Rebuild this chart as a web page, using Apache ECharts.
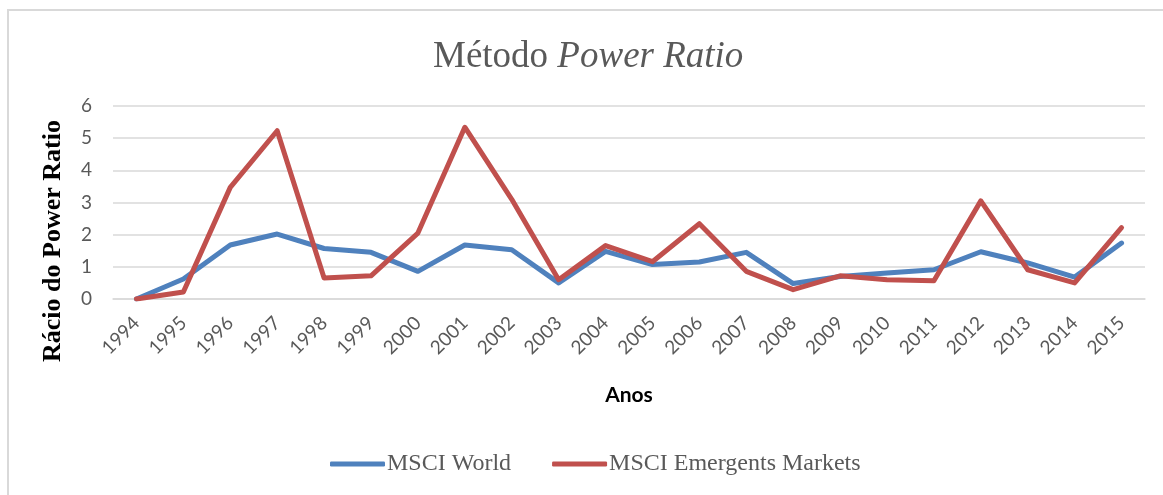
<!DOCTYPE html>
<html>
<head>
<meta charset="utf-8">
<script src="https://cdn.jsdelivr.net/npm/echarts@6/dist/echarts.min.js"></script>
<style>
  html, body { margin: 0; padding: 0; background: #fff; }
  #chart { width: 1163px; height: 495px; }
</style>
</head>
<body>
<div id="chart"></div>
<script>
// Years on the category axis
var years = ['1994', '1995', '1996', '1997', '1998', '1999', '2000', '2001', '2002', '2003', '2004',
             '2005', '2006', '2007', '2008', '2009', '2010', '2011', '2012', '2013', '2014', '2015'];

// Power ratio values
var msciWorld = [0, 0.62, 1.68, 2.02, 1.57, 1.45, 0.86, 1.68, 1.53, 0.50, 1.48,
                 1.07, 1.15, 1.45, 0.48, 0.70, 0.81, 0.91, 1.47, 1.12, 0.68, 1.74];
var msciEmerging = [0, 0.22, 3.47, 5.23, 0.65, 0.72, 2.05, 5.34, 3.10, 0.60, 1.66,
                    1.16, 2.34, 0.86, 0.29, 0.72, 0.60, 0.57, 3.05, 0.91, 0.50, 2.22];

var yTicks = [0, 1, 2, 3, 4, 5, 6];

var gray = '#595959';
var serif = '"Liberation Serif", "Times New Roman", serif';
var sans = 'Lato, "Open Sans", sans-serif';

var chart = echarts.init(document.getElementById('chart'), null, { renderer: 'canvas' });

chart.setOption({
    animation: false,
    backgroundColor: '#fff',
    color: ['#4F81BD', '#C0504D'],
    title: {
        text: '{a|Método }{b|Power Ratio}',
        left: 433,
        top: 39,
        padding: 0,
        textStyle: {
            fontWeight: 'normal',
            rich: {
                a: { fontFamily: serif, fontSize: 37, color: gray, fontWeight: 'normal' },
                b: { fontFamily: serif, fontSize: 37, color: gray, fontWeight: 'normal', fontStyle: 'italic' }
            }
        }
    },
    grid: { left: 113, right: 18, top: 106, bottom: 196, containLabel: false },
    xAxis: {
        type: 'category',
        data: years,
        boundaryGap: true,
        name: 'Anos',
        nameLocation: 'middle',
        nameGap: 86,
        nameTextStyle: { fontFamily: sans, fontSize: 21, fontWeight: 'bold', color: '#000' },
        axisLine: { lineStyle: { color: '#D9D9D9', width: 1.5 } },
        axisTick: { show: false },
        axisLabel: { rotate: 45, margin: 21, fontFamily: sans, fontSize: 19, color: gray, interval: 0 }
    },
    yAxis: {
        type: 'value',
        min: yTicks[0],
        max: yTicks[yTicks.length - 1],
        interval: 1,
        axisLine: { show: false },
        axisTick: { show: false },
        axisLabel: { margin: 21, fontFamily: sans, fontSize: 19, color: gray },
        splitLine: { lineStyle: { color: '#D9D9D9', width: 1.5 } }
    },
    legend: {
        left: 330,
        top: 452,
        padding: 0,
        itemGap: 41,
        itemWidth: 55,
        itemHeight: 5,
        icon: 'roundRect',
        textStyle: { fontFamily: serif, fontSize: 24, color: gray, padding: [0, 0, 0, -3] },
        data: ['MSCI World', 'MSCI Emergents Markets']
    },
    graphic: [
        {
            type: 'rect',
            shape: { x: 8, y: 10, width: 1200, height: 600 },
            style: { fill: 'none', stroke: '#D9D9D9', lineWidth: 2 },
            silent: true
        },
        {
            type: 'text',
            x: 53,
            y: 241,
            rotation: Math.PI / 2,
            style: {
                text: 'Rácio do Power Ratio',
                fontFamily: serif,
                fontSize: 26,
                fontWeight: 'bold',
                fill: '#000',
                align: 'center',
                verticalAlign: 'middle'
            }
        }
    ],
    series: [
        {
            name: 'MSCI World',
            type: 'line',
            data: msciWorld,
            showSymbol: false,
            lineStyle: { width: 5, cap: 'round', join: 'round' }
        },
        {
            name: 'MSCI Emergents Markets',
            type: 'line',
            data: msciEmerging,
            showSymbol: false,
            lineStyle: { width: 5, cap: 'round', join: 'round' }
        }
    ]
});
</script>
</body>
</html>
